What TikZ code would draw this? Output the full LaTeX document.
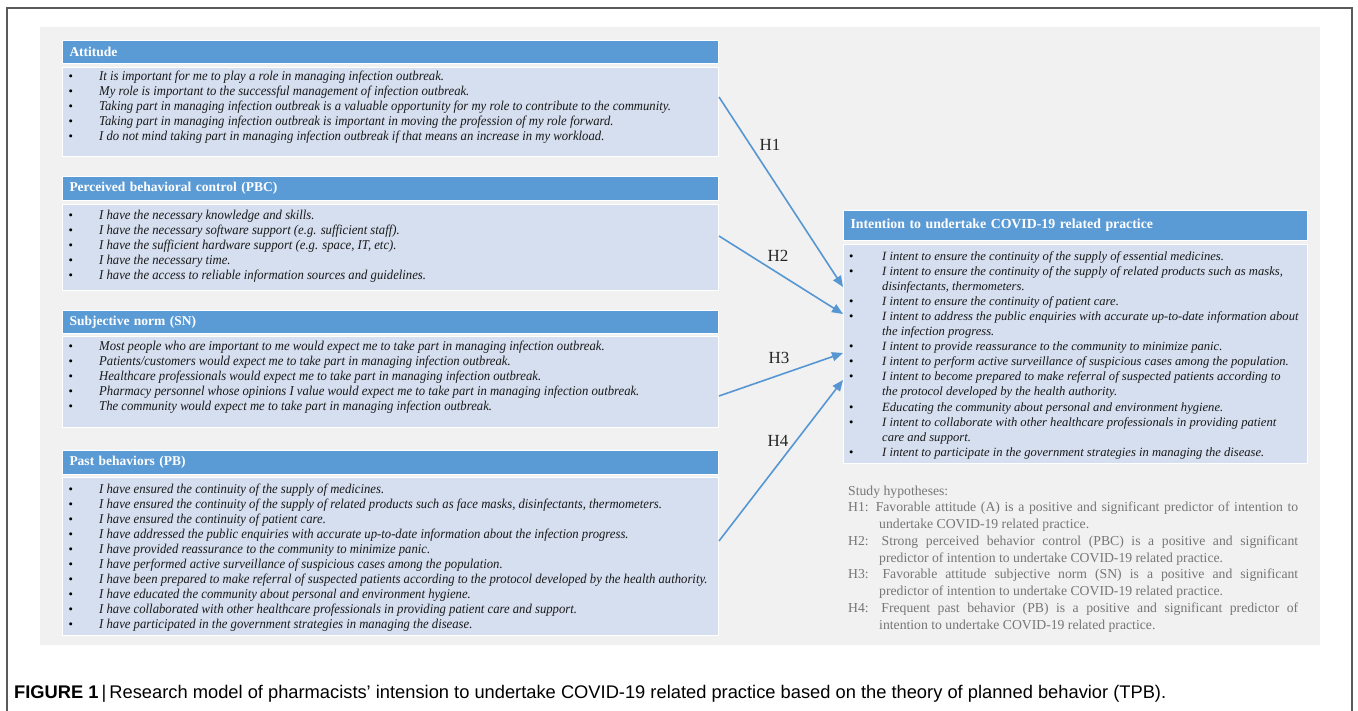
\documentclass[tikz,border=0pt]{standalone}
\usepackage{fontspec}
\setmainfont{Liberation Serif}
\setsansfont{Liberation Sans}
\newfontfamily\lstfont[FakeStretch=0.94]{Liberation Serif}
\usetikzlibrary{arrows.meta}
\definecolor{hdrblue}{RGB}{91,155,213}
\definecolor{bodyblue}{RGB}{213,223,239}
\definecolor{panelgray}{RGB}{241,241,241}
\definecolor{framegray}{RGB}{90,90,90}
\definecolor{hypgray}{RGB}{118,118,118}
\definecolor{arrblue}{RGB}{86,150,210}
\tikzset{
  hdr/.style={fill=hdrblue, draw=white, line width=1pt, text=white,
    font=\bfseries\fontsize{13.5}{16}\selectfont, anchor=north west,
    inner xsep=7pt, inner ysep=0pt, align=left},
  bodybox/.style={fill=bodyblue, draw=white, line width=1pt, anchor=north west, inner sep=0pt},
  bul/.style={anchor=base west, inner sep=0pt, font=\fontsize{12.5}{14}\selectfont},
  litem/.style={anchor=base west, inner sep=0pt, font=\lstfont\itshape\fontsize{13.5}{15}\selectfont, text=black!90},
  ritem/.style={anchor=base west, inner sep=0pt, font=\itshape\fontsize{12.6}{15}\selectfont, text=black!90},
  hyp/.style={anchor=base west, inner sep=0pt, font=\fontsize{13.7}{16}\selectfont, text=hypgray},
  arr/.style={draw=arrblue, line width=1.6pt, -{Triangle[length=11pt,width=9pt]}},
  hlab/.style={font=\fontsize{17}{20}\selectfont, text=black!85, inner sep=0pt}
}
\begin{document}
\begin{tikzpicture}[x=1pt,y=-1pt]
\useasboundingbox (0,0) rectangle (1358,710);
\fill[white] (0,0) rectangle (1358,710);
\draw[framegray, line width=1.4pt] (7,712) -- (7,8) -- (1352,8) -- (1352,712);
\fill[panelgray] (40,27) rectangle (1320,645);

% Attitude
\node[hdr, minimum width=656pt, minimum height=23pt, text width=642pt] (atth) at (62,40) {Attitude};
\node[bodybox, minimum width=656pt, minimum height=89pt] (attb) at (62,67) {};
\foreach \t [count=\i from 0] in {
  {It is important for me to play a role in managing infection outbreak.},
  {My role is important to the successful management of infection outbreak.},
  {Taking part in managing infection outbreak is a valuable opportunity for my role to contribute to the community.},
  {Taking part in managing infection outbreak is important in moving the profession of my role forward.},
  {I do not mind taking part in managing infection outbreak if that means an increase in my workload.}}{
  \node[bul] (attbul\i) at (68.5,{80+15.2*\i}) {\textbullet};
  \node[litem] (att\i) at (99,{80+15.2*\i}) {\t};
}

% PBC
\node[hdr, minimum width=656pt, minimum height=24pt, text width=642pt] (pbch) at (62,176) {Perceived behavioral control (PBC)};
\node[bodybox, minimum width=656pt, minimum height=86pt] (pbcb) at (62,204) {};
\foreach \t [count=\i from 0] in {
  {I have the necessary knowledge and skills.},
  {I have the necessary software support (e.g. sufficient staff).},
  {I have the sufficient hardware support (e.g. space, IT, etc).},
  {I have the necessary time.},
  {I have the access to reliable information sources and guidelines.}}{
  \node[bul] (pbcbul\i) at (68.5,{219+15.2*\i}) {\textbullet};
  \node[litem] (pbc\i) at (99,{219+15.2*\i}) {\t};
}

% SN
\node[hdr, minimum width=656pt, minimum height=23pt, text width=642pt] (snh) at (62,310) {Subjective norm (SN)};
\node[bodybox, minimum width=656pt, minimum height=91pt] (snb) at (62,336) {};
\foreach \t [count=\i from 0] in {
  {Most people who are important to me would expect me to take part in managing infection outbreak.},
  {Patients/customers would expect me to take part in managing infection outbreak.},
  {Healthcare professionals would expect me to take part in managing infection outbreak.},
  {Pharmacy personnel whose opinions I value would expect me to take part in managing infection outbreak.},
  {The community would expect me to take part in managing infection outbreak.}}{
  \node[bul] (snbul\i) at (68.5,{350+15.2*\i}) {\textbullet};
  \node[litem] (sn\i) at (99,{350+15.2*\i}) {\t};
}

% PB
\node[hdr, minimum width=656pt, minimum height=24pt, text width=642pt] (pbh) at (62,450) {Past behaviors (PB)};
\node[bodybox, minimum width=656pt, minimum height=158pt] (pbb) at (62,477) {};
\foreach \t [count=\i from 0] in {
  {I have ensured the continuity of the supply of medicines.},
  {I have ensured the continuity of the supply of related products such as face masks, disinfectants, thermometers.},
  {I have ensured the continuity of patient care.},
  {I have addressed the public enquiries with accurate up-to-date information about the infection progress.},
  {I have provided reassurance to the community to minimize panic.},
  {I have performed active surveillance of suspicious cases among the population.},
  {I have been prepared to make referral of suspected patients according to the protocol developed by the health authority.},
  {I have educated the community about personal and environment hygiene.},
  {I have collaborated with other healthcare professionals in providing patient care and support.},
  {I have participated in the government strategies in managing the disease.}}{
  \node[bul] (pbbul\i) at (68.5,{493+15.1*\i}) {\textbullet};
  \node[litem] (pb\i) at (99,{493+15.1*\i}) {\t};
}

% Intention
\node[hdr, minimum width=464pt, minimum height=30pt, text width=450pt, font=\bfseries\fontsize{13.8}{16}\selectfont] (inth) at (843,210) {Intention to undertake COVID-19 related practice};
\node[bodybox, minimum width=464pt, minimum height=219pt] (intb) at (843,244) {};
\foreach \b/\t [count=\i from 0] in {
  1/{I intent to ensure the continuity of the supply of essential medicines.},
  1/{I intent to ensure the continuity of the supply of related products such as masks,},
  0/{disinfectants, thermometers.},
  1/{I intent to ensure the continuity of patient care.},
  1/{I intent to address the public enquiries with accurate up-to-date information about},
  0/{the infection progress.},
  1/{I intent to provide reassurance to the community to minimize panic.},
  1/{I intent to perform active surveillance of suspicious cases among the population.},
  1/{I intent to become prepared to make referral of suspected patients according to},
  0/{the protocol developed by the health authority.},
  1/{Educating the community about personal and environment hygiene.},
  1/{I intent to collaborate with other healthcare professionals in providing patient},
  0/{care and support.},
  1/{I intent to participate in the government strategies in managing the disease.}}{
  \ifnum\b=1 \node[bul] (intbul\i) at (849,{260+15.1*\i}) {\textbullet};\fi
  \node[ritem] (int\i) at (882,{260+15.1*\i}) {\t};
}

% Hypotheses
\node[hyp] (hyp0) at (848,495) {Study hypotheses:};
\node[hyp] (hyp1) at (848,{495+16.75}) {\makebox[450pt][s]{H1: Favorable attitude (A) is a positive and significant predictor of intention to}};
\node[hyp] (hyp2) at (879,{495+2*16.75}) {undertake COVID-19 related practice.};
\node[hyp] (hyp3) at (848,{495+3*16.75}) {\makebox[450pt][s]{H2: Strong perceived behavior control (PBC) is a positive and significant}};
\node[hyp] (hyp4) at (879,{495+4*16.75}) {predictor of intention to undertake COVID-19 related practice.};
\node[hyp] (hyp5) at (848,{495+5*16.75}) {\makebox[450pt][s]{H3: Favorable attitude subjective norm (SN) is a positive and significant}};
\node[hyp] (hyp6) at (879,{495+6*16.75}) {predictor of intention to undertake COVID-19 related practice.};
\node[hyp] (hyp7) at (848,{495+7*16.75}) {\makebox[450pt][s]{H4: Frequent past behavior (PB) is a positive and significant predictor of}};
\node[hyp] (hyp8) at (879,{495+8*16.75}) {intention to undertake COVID-19 related practice.};

% Arrows
\draw[arr] ([yshift=-30pt]attb.north east) -- ([yshift=-43pt]intb.north west);
\draw[arr] ([yshift=-32pt]pbcb.north east) -- ([yshift=-70pt]intb.north west);
\draw[arr] ([yshift=-60pt]snb.north east) -- ([yshift=-109pt]intb.north west);
\draw[arr] ([yshift=-64pt]pbb.north east) -- ([yshift=-136pt]intb.north west);
\node[hlab] (h1) at (770,145) {H1};
\node[hlab] (h2) at (778,256) {H2};
\node[hlab] (h3) at (779,358) {H3};
\node[hlab] (h4) at (778,441) {H4};

% Caption
\node[anchor=base west, inner sep=0pt, font=\sffamily\fontsize{18.3}{21}\selectfont] (cap) at (14,698)
  {\textbf{FIGURE 1}\,|\,Research model of pharmacists' intension to undertake COVID-19 related practice based on the theory of planned behavior (TPB).};
\end{tikzpicture}
\end{document}
